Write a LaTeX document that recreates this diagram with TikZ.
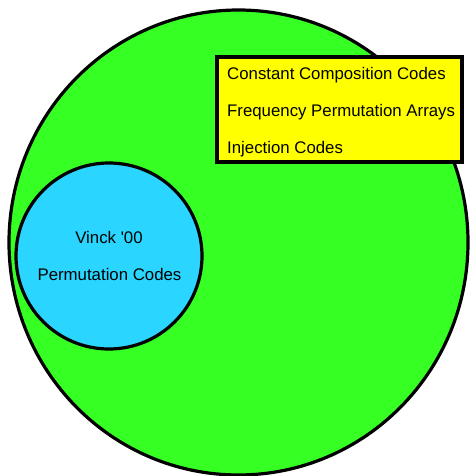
\documentclass[tikz,border=0pt]{standalone}
\usepackage{fontspec}
\setmainfont{Liberation Sans}
\usetikzlibrary{shapes.geometric}
\definecolor{biggreen}{RGB}{54,255,36}
\definecolor{permblue}{RGB}{42,214,255}
\definecolor{boxyellow}{RGB}{255,255,0}
\begin{document}
\begin{tikzpicture}[x=1pt,y=-1pt,
  outline/.style={draw=black,line width=3.2pt},
  lbl/.style={font=\fontsize{16.8}{19}\selectfont,inner sep=0pt,anchor=base}]
\useasboundingbox (0,0) rectangle (469,476);
\node[outline,fill=biggreen,ellipse,minimum width=459pt,minimum height=465pt,inner sep=0pt] (all) at (238.5,242.5) {};
\node[outline,fill=permblue,circle,minimum size=186pt,inner sep=0pt] (perm) at (109,256) {};
\node[outline,fill=boxyellow,rectangle,minimum width=245pt,minimum height=105pt,inner sep=0pt] (box) at (339.5,109.5) {};
\node[lbl,anchor=base west] (ccc) at (227,79.3) {Constant Composition Codes};
\node[lbl,anchor=base west] (fpa) at (227,116.7) {Frequency Permutation Arrays};
\node[lbl,anchor=base west] (inj) at (227,153.3) {Injection Codes};
\node[lbl] (vinck) at (109,243.3) {Vinck \textquotesingle 00};
\node[lbl] (pc) at (109.5,280.7) {Permutation Codes};
\end{tikzpicture}
\end{document}
